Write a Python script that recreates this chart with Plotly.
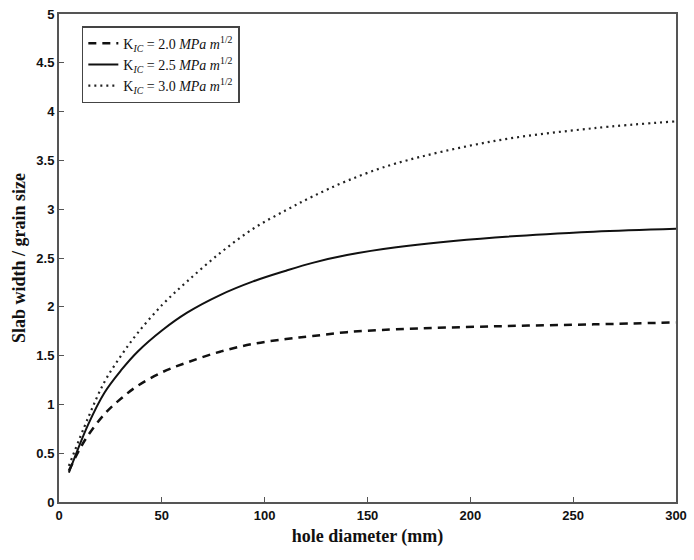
import plotly.graph_objects as go

# Data
x_k20 = [4.8, 12.5, 22.1, 30.2, 38.2, 50.2, 62.3, 78.3, 94.4, 110.4, 123.3, 140, 164, 212, 260, 300]
y_k20 = [0.32, 0.63, 0.90, 1.06, 1.19, 1.33, 1.43, 1.54, 1.62, 1.67, 1.70, 1.74, 1.77, 1.80, 1.82, 1.84]

x_k25 = [4.8, 14.1, 22.1, 30.2, 38.2, 50.2, 62.3, 78.3, 94.4, 110.4, 123.3, 140, 164, 212, 260, 300]
y_k25 = [0.30, 0.79, 1.12, 1.35, 1.54, 1.76, 1.94, 2.12, 2.26, 2.37, 2.45, 2.53, 2.61, 2.71, 2.77, 2.80]

x_k30 = [4.8, 14.1, 22.1, 30.2, 38.2, 50.2, 62.3, 78.3, 94.4, 110.4, 123.3, 140, 164, 212, 260, 300]
y_k30 = [0.37, 0.86, 1.23, 1.50, 1.73, 2.02, 2.26, 2.55, 2.80, 2.99, 3.13, 3.29, 3.47, 3.70, 3.83, 3.90]

x_ticks = [0, 50, 100, 150, 200, 250, 300]
y_ticks = [0, 0.5, 1, 1.5, 2, 2.5, 3, 3.5, 4, 4.5, 5]
y_tick_text = ["0", "0.5", "1", "1.5", "2", "2.5", "3", "3.5", "4", "4.5", "5"]

names = [
    "K<sub><i>IC</i></sub> = 2.0 <i>MPa m</i><sup>1/2</sup>",
    "K<sub><i>IC</i></sub> = 2.5 <i>MPa m</i><sup>1/2</sup>",
    "K<sub><i>IC</i></sub> = 3.0 <i>MPa m</i><sup>1/2</sup>",
]

fig = go.Figure()
fig.add_trace(go.Scatter(x=x_k20, y=y_k20, mode="lines", name=names[0],
                         line=dict(color="#111", width=2.5, dash="8px,6px", shape="spline", smoothing=1)))
fig.add_trace(go.Scatter(x=x_k25, y=y_k25, mode="lines", name=names[1],
                         line=dict(color="#111", width=2, shape="spline", smoothing=1)))
fig.add_trace(go.Scatter(x=x_k30, y=y_k30, mode="lines", name=names[2],
                         line=dict(color="#222", width=2.2, dash="2px,4px", shape="spline", smoothing=1)))

axis_common = dict(
    showline=True, linecolor="#555", linewidth=2, mirror=True,
    ticks="inside", ticklen=5, tickcolor="#555", tickwidth=1,
    showgrid=False, zeroline=False,
    tickfont=dict(family="Liberation Sans, Arial", size=13, color="#111", weight="bold"),
)

fig.update_layout(
    width=694, height=560,
    margin=dict(l=59, r=12, t=7, b=58),
    paper_bgcolor="white", plot_bgcolor="white",
    xaxis=dict(range=[0, 300], tickvals=x_ticks,
               title=dict(text="hole diameter (mm)", standoff=8,
                          font=dict(family="Liberation Serif, Times New Roman", size=18,
                                    color="#111", weight="bold")),
               **axis_common),
    yaxis=dict(range=[0, 5], tickvals=y_ticks, ticktext=y_tick_text,
               title=dict(text="Slab width / grain size", standoff=6,
                          font=dict(family="Liberation Serif, Times New Roman", size=18,
                                    color="#111", weight="bold")),
               **axis_common),
    legend=dict(x=0.037, y=0.975, xanchor="left", yanchor="top",
                bgcolor="white", bordercolor="#444", borderwidth=1.5,
                font=dict(family="Liberation Serif, Times New Roman", size=14, color="#111"),
                tracegroupgap=0, itemwidth=30),
    showlegend=True,
)

fig.write_html("out.html")
